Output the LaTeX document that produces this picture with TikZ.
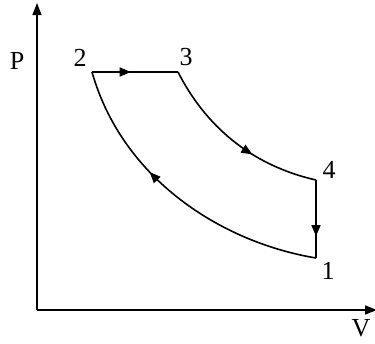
\documentclass[tikz,border=0pt]{standalone}
\usepackage{fontspec}
\setmainfont{Liberation Serif}
\usetikzlibrary{arrows.meta,decorations.markings}
\begin{document}
\begin{tikzpicture}[x=1pt,y=-1pt,
  curve/.style={line width=1.6pt,line join=miter},
  axis/.style={line width=1.6pt,-{Triangle[length=12pt,width=9pt]}},
  midarrow/.style={postaction={decorate},decoration={markings,
    mark=at position #1 with {\arrow{Triangle[length=11pt,width=9pt]}}}},
  lab/.style={font=\fontsize{26}{28}\selectfont,inner sep=0pt}]
\useasboundingbox (0,0) rectangle (375,343);
\coordinate (o) at (37,310);
\coordinate (ytop) at (37,3);
\coordinate (xend) at (377,310);
\draw[axis] (o) -- (ytop);
\draw[axis] (o) -- (xend);
\coordinate (p2) at (92,72);
\coordinate (p3) at (178,72);
\coordinate (p4) at (316,180);
\coordinate (p1) at (316,258);
\draw[curve,midarrow=0.45] (p2) -- (p3);
\draw[curve,midarrow=0.62] (p3) .. controls (205,125) and (250,165) .. (p4);
\draw[curve,midarrow=0.72] (p4) -- (p1);
\draw[curve,midarrow=0.62] (p1) .. controls (220,242) and (122,178) .. (p2);
\node[lab] (lP) at (17,61) {P};
\node[lab] (l2) at (80,58) {2};
\node[lab] (l3) at (186,57) {3};
\node[lab] (l4) at (329,170) {4};
\node[lab] (l1) at (328,271) {1};
\node[lab] (lV) at (361,328) {V};
\end{tikzpicture}
\end{document}
